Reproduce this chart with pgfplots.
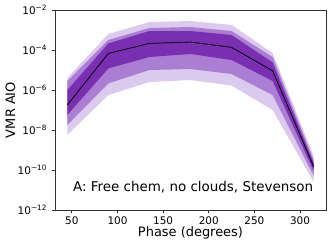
\documentclass[border=0pt]{standalone}
\usepackage{fontspec}
\setmainfont{DejaVu Sans}
\usepackage{pgfplots}
\pgfplotsset{compat=1.18}
\usepgfplotslibrary{fillbetween}
\usepackage{pgfplotstable}
\definecolor{palep}{HTML}{DCC9EE}
\definecolor{medp}{HTML}{A97ED3}
\definecolor{darkp}{HTML}{7A2FB3}
\definecolor{spine}{HTML}{333333}

\pgfplotstableread{
x   l3       l2       l1       m        u1       u2       u3
45  5.62e-9  1.78e-8  5.62e-8  1.78e-7  1.0e-6   2.82e-6  3.98e-6
90  5.62e-7  2.14e-6  1.20e-5  6.76e-5  2.14e-4  3.16e-4  6.31e-4
135 2.51e-6  1.0e-5   4.47e-5  2.14e-4  8.91e-4  1.26e-3  2.51e-3
180 3.16e-6  1.12e-5  6.31e-5  2.51e-4  8.91e-4  1.41e-3  2.82e-3
225 1.66e-6  6.31e-6  3.16e-5  1.35e-4  5.62e-4  8.91e-4  1.78e-3
270 1.0e-7   5.62e-7  2.82e-6  9.12e-6  2.40e-5  4.47e-5  7.08e-5
315 2.51e-11 5.01e-11 8.91e-11 1.48e-10 2.24e-10 3.16e-10 5.01e-10
}\data

\begin{document}
\begin{tikzpicture}
\begin{axis}[
  name=ax,
  scale only axis,
  width=271bp, height=200bp,
  ymode=log,
  xmin=31.5, xmax=328.5,
  ymin=1e-12, ymax=1e-2,
  ytick={1e-12,1e-10,1e-8,1e-6,1e-4,1e-2},
  yticklabels={{10\textsuperscript{−12}},{10\textsuperscript{−10}},{10\textsuperscript{−8}},{10\textsuperscript{−6}},{10\textsuperscript{−4}},{10\textsuperscript{−2}}},
  yminorticks=false,
  xtick={50,100,150,200,250,300},
  tick align=outside,
  tick pos=left,
  major tick length=3.5bp,
  tick style={spine, line width=0.8bp},
  axis line style={spine, line width=0.8bp},
  ticklabel style={font=\fontsize{10.5}{12}\selectfont},
  yticklabel style={xshift=-1bp},
  xticklabel style={/pgf/number format/assume math mode=true},
  xlabel={Phase (degrees)},
  ylabel={VMR AIO},
  every axis x label/.style={at={(axis description cs:0.5,-0.117)}, anchor=center, font=\fontsize{13}{15}\selectfont},
  every axis y label/.style={at={(axis description cs:-0.165,0.5)}, anchor=center, rotate=90, font=\fontsize{13}{15}\selectfont},
  no markers,
  clip=true,
]
\addplot[draw=none, forget plot, name path=u3] table[x=x,y=u3]{\data};
\addplot[draw=none, forget plot, name path=l3] table[x=x,y=l3]{\data};
\addplot[draw=none, forget plot, name path=u2] table[x=x,y=u2]{\data};
\addplot[draw=none, forget plot, name path=l2] table[x=x,y=l2]{\data};
\addplot[draw=none, forget plot, name path=u1] table[x=x,y=u1]{\data};
\addplot[draw=none, forget plot, name path=l1] table[x=x,y=l1]{\data};
\addplot[palep, forget plot] fill between[of=u3 and l3];
\addplot[medp, forget plot] fill between[of=u2 and l2];
\addplot[darkp, forget plot] fill between[of=u1 and l1];
\addplot[black, line width=0.8pt] table[x=x,y=m]{\data};
\node[anchor=base west, font=\fontsize{13.5}{16}\selectfont, inner sep=0pt] at (axis description cs:0.066,0.092) {A: Free chem, no clouds, Stevenson};
\end{axis}
\pgfresetboundingbox
\path (ax.south west) ++(-55bp,-37bp) rectangle ([xshift=6bp,yshift=10bp]ax.north east);
\end{tikzpicture}
\end{document}
